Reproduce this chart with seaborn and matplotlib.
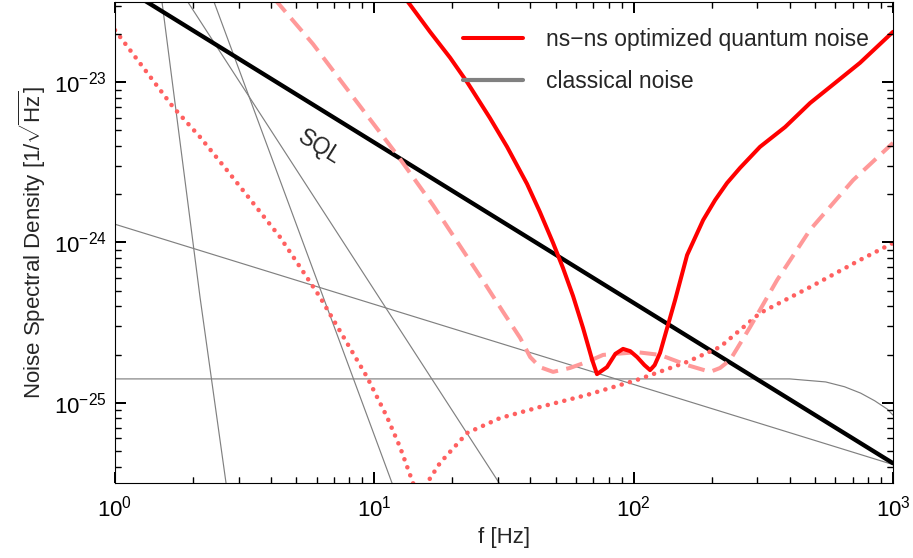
import matplotlib
matplotlib.use("Agg")
import matplotlib.pyplot as plt
from matplotlib.lines import Line2D
from matplotlib.transforms import blended_transform_factory
import seaborn as sns

# optimized quantum noise (solid red)
opt_freq = [12.0, 13.49, 16.4, 19.6, 22.8, 27.9, 32.5, 38.8, 43.5, 48.9, 53.4, 58.4,
            63.8, 69.2, 72.2, 78.9, 85.0, 91.0, 97.0, 103.1, 110.0, 115.7, 120.5,
            126.4, 144.5, 160.7, 185.3, 206.1, 229.1, 257.2, 307.0, 383.7, 478.9,
            598.0, 746.0, 1000.0]
opt_noise = [3.98e-23, 3.16e-23, 2.06e-23, 1.42e-23, 1.00e-23, 5.98e-24, 3.95e-24,
             2.32e-24, 1.55e-24, 9.93e-25, 6.93e-25, 4.63e-25, 2.93e-25, 1.85e-25,
             1.51e-25, 1.67e-25, 2.02e-25, 2.17e-25, 2.10e-25, 1.93e-25, 1.72e-25,
             1.60e-25, 1.72e-25, 2.05e-25, 4.38e-25, 8.35e-25, 1.38e-24, 1.84e-24,
             2.35e-24, 2.92e-24, 3.95e-24, 5.25e-24, 7.41e-24, 9.89e-24, 1.32e-23,
             2.06e-23]

# dashed pink curve
dash_freq = [3.5, 4.22, 5.80, 8.28, 12.24, 16.84, 20.8, 26.3, 31.4, 36.5, 39.9,
             43.5, 48.9, 56.8, 66.1, 76.2, 103.1, 126.4, 160.7, 197.1, 215.4, 235.4,
             281.2, 357.3, 478.9, 701.8, 1000.0]
dash_noise = [4.45e-23, 3.16e-23, 1.73e-23, 8.08e-24, 3.52e-24, 1.71e-24, 1.02e-24,
              5.75e-25, 3.68e-25, 2.54e-25, 1.93e-25, 1.67e-25, 1.56e-25, 1.65e-25,
              1.80e-25, 1.99e-25, 2.07e-25, 1.99e-25, 1.72e-25, 1.56e-25, 1.65e-25,
              1.85e-25, 2.97e-25, 5.83e-25, 1.20e-24, 2.45e-24, 4.18e-24]

# dotted red curve
dot_freq = [1.0, 1.282, 1.674, 2.127, 2.70, 3.41, 4.33, 5.17, 6.17, 7.85, 9.37,
            11.19, 12.56, 14.10, 15.0, 15.97, 17.92, 22.8, 30.5, 43.5, 66.1,
            103.1, 160.7, 215.4, 307.0, 478.9, 746.0, 1000.0]
dot_noise = [2.11e-23, 1.24e-23, 7.00e-24, 4.55e-24, 2.83e-24, 1.76e-24, 1.08e-24,
             7.03e-25, 4.57e-25, 2.36e-25, 1.45e-25, 8.17e-26, 5.30e-26, 3.16e-26,
             2.30e-26, 3.16e-26, 4.22e-26, 6.49e-26, 8.03e-26, 9.42e-26, 1.12e-25,
             1.39e-25, 1.80e-25, 2.23e-25, 3.63e-25, 5.27e-25, 7.78e-25, 9.93e-25]

# standard quantum limit
sql_freq = [1.0, 1000.0]
sql_noise = [4.2e-23, 4.2e-26]

# classical noise components
classical = {
    "steep": ([1.518, 2.127, 2.68], [3.16e-23, 4.57e-25, 3.16e-26]),
    "mid": ([2.41, 11.7], [3.16e-23, 3.16e-26]),
    "shallow": ([1.91, 30.3], [3.16e-23, 3.16e-26]),
    "sqrt": ([1.0, 1000.0], [1.30e-24, 4.12e-26]),
    "flat": ([1.0, 400.0, 550.0, 650.0, 750.0, 850.0, 950.0, 1000.0],
             [1.41e-25, 1.41e-25, 1.35e-25, 1.26e-25, 1.15e-25, 1.03e-25,
              9.14e-26, 8.39e-26]),
}

sns.set_style("ticks")
plt.rcParams["font.family"] = ["Liberation Sans", "DejaVu Sans"]
plt.rcParams["mathtext.fontset"] = "custom"
plt.rcParams["mathtext.rm"] = "Liberation Sans"
plt.rcParams.update({
    "xtick.direction": "in", "ytick.direction": "in",
    "xtick.top": True, "ytick.right": True,
    "xtick.major.size": 8, "ytick.major.size": 8,
    "xtick.minor.size": 4.5, "ytick.minor.size": 4.5,
    "xtick.major.width": 1.4, "ytick.major.width": 1.4,
    "xtick.color": "black", "ytick.color": "black",
    "xtick.major.pad": 9, "ytick.major.pad": 6,
    "xtick.labelsize": 16, "ytick.labelsize": 16,
    "axes.edgecolor": "black",
})

fig = plt.figure(figsize=(9.13, 5.58), dpi=100)
ax = fig.add_axes([115 / 913, 1 - 483 / 558, 778 / 913, 481 / 558])
ax.set_xscale("log")
ax.set_yscale("log")

# drawing order gives the layering: grey, SQL, dotted, dashed, solid
grey = "#808080"
for name, (fx, fy) in classical.items():
    sns.lineplot(x=fx, y=fy, ax=ax, color=grey, linewidth=0.85, sort=False,
                 estimator=None)

sns.lineplot(x=sql_freq, y=sql_noise, ax=ax, color="black", linewidth=3.1,
             sort=False, estimator=None)
sns.lineplot(x=dot_freq, y=dot_noise, ax=ax, color="#ff6060", linewidth=3.3,
             linestyle=(0, (0.01, 1.85)), dash_capstyle="round", sort=False,
             estimator=None)
sns.lineplot(x=dash_freq, y=dash_noise, ax=ax, color="#ff9999", linewidth=2.9,
             linestyle=(0, (4.2, 2.1)), sort=False, estimator=None)
sns.lineplot(x=opt_freq, y=opt_noise, ax=ax, color="#ff0000", linewidth=2.9,
             sort=False, estimator=None)

ax.set_xlim(1, 1000)
ax.set_ylim(10 ** -25.5, 10 ** -22.5)
ax.tick_params(which="both", direction="in", top=True, right=True, labelsize=16)

ax.text(6.17, 3.95e-24, "SQL", rotation=-31.7, rotation_mode="anchor",
        ha="center", va="center", fontsize=16.5)

ax.set_xlabel("f [Hz]", fontsize=16)
ax.set_ylabel(r"Noise Spectral Density $[1/\sqrt{\mathrm{Hz}}]$", fontsize=16)

handles = [Line2D([], [], color="#ff0000", linewidth=2.9),
           Line2D([], [], color=grey, linewidth=3.0)]
ax.legend(handles, ["ns\u2212ns optimized quantum noise", "classical noise"],
          loc="upper right", bbox_to_anchor=(0.995, 0.988), frameon=False,
          fontsize=16.5, handlelength=2.6, handletextpad=1.0, labelspacing=0.8)

# inward tick marks on all four sides, taken from the axis locators
xt = blended_transform_factory(ax.transData, ax.transAxes)
yt = blended_transform_factory(ax.transAxes, ax.transData)
x0, x1 = ax.get_xlim()
y0, y1 = ax.get_ylim()
for locs, hx, lw in [(ax.xaxis.get_majorticklocs(), 11 / 481, 1.4),
                     (ax.xaxis.get_minorticklocs(), 6 / 481, 1.0)]:
    for v in locs:
        if x0 < v < x1:
            ax.plot([v, v], [0, hx], transform=xt, color="black", lw=lw,
                    clip_on=False, solid_capstyle="butt")
            ax.plot([v, v], [1, 1 - hx], transform=xt, color="black", lw=lw,
                    clip_on=False, solid_capstyle="butt")
for locs, hy, lw in [(ax.yaxis.get_majorticklocs(), 11 / 778, 1.4),
                     (ax.yaxis.get_minorticklocs(), 6 / 778, 1.0)]:
    for v in locs:
        if y0 < v < y1:
            ax.plot([0, hy], [v, v], transform=yt, color="black", lw=lw,
                    clip_on=False, solid_capstyle="butt")
            ax.plot([1, 1 - hy], [v, v], transform=yt, color="black", lw=lw,
                    clip_on=False, solid_capstyle="butt")

fig.savefig("out.png", dpi=100)
